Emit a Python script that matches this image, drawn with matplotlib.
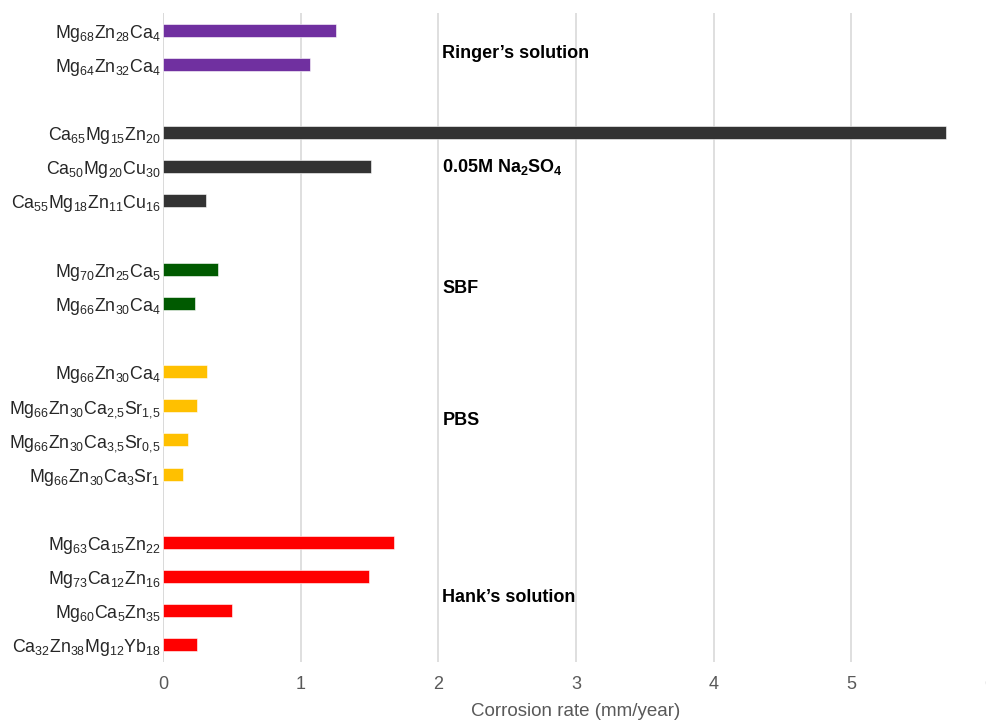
import numpy as np
import matplotlib.pyplot as plt

plt.rcParams['font.family'] = ['Liberation Sans', 'DejaVu Sans']
plt.rcParams['mathtext.fontset'] = 'custom'
plt.rcParams['mathtext.rm'] = 'Liberation Sans'
plt.rcParams['mathtext.it'] = 'Liberation Sans'
plt.rcParams['mathtext.bf'] = 'Liberation Sans:bold'

# Data, top to bottom, one list per solution
groups = ["Ringer\u2019s solution", r"0.05M Na$\mathbf{_2}$SO$\mathbf{_4}$", "SBF", "PBS",
          "Hank\u2019s solution"]
alloys = [
    [r"Mg$_{68}$Zn$_{28}$Ca$_{4}$", r"Mg$_{64}$Zn$_{32}$Ca$_{4}$"],
    [r"Ca$_{65}$Mg$_{15}$Zn$_{20}$", r"Ca$_{50}$Mg$_{20}$Cu$_{30}$",
     r"Ca$_{55}$Mg$_{18}$Zn$_{11}$Cu$_{16}$"],
    [r"Mg$_{70}$Zn$_{25}$Ca$_{5}$", r"Mg$_{66}$Zn$_{30}$Ca$_{4}$"],
    [r"Mg$_{66}$Zn$_{30}$Ca$_{4}$", r"Mg$_{66}$Zn$_{30}$Ca$_{2{,}5}$Sr$_{1{,}5}$",
     r"Mg$_{66}$Zn$_{30}$Ca$_{3{,}5}$Sr$_{0{,}5}$", r"Mg$_{66}$Zn$_{30}$Ca$_{3}$Sr$_{1}$"],
    [r"Mg$_{63}$Ca$_{15}$Zn$_{22}$", r"Mg$_{73}$Ca$_{12}$Zn$_{16}$",
     r"Mg$_{60}$Ca$_{5}$Zn$_{35}$", r"Ca$_{32}$Zn$_{38}$Mg$_{12}$Yb$_{18}$"],
]
rates = [
    [1.26, 1.07],
    [5.69, 1.51, 0.31],
    [0.40, 0.23],
    [0.32, 0.245, 0.18, 0.146],
    [1.68, 1.50, 0.50, 0.25],
]
colors = ["#7030A0", "#333333", "#005A00", "#FFC000", "#FF0000"]
label_shift = [0.18, 0.0, 0.06, -0.08, 0.12]  # nudge of group names off centre

fig = plt.figure(figsize=(9.87, 7.22), dpi=100)
ax = fig.add_axes([163/987, 1 - 662/722, 826/987, (662 - 13)/722])

pos = 0
ticks, labels = [], []
for g, name in enumerate(groups):
    ys = np.arange(pos, pos + len(rates[g]))
    ax.barh(ys, rates[g], height=0.38, color=colors[g], edgecolor='white',
            linewidth=0.4, zorder=3)
    ax.text(2.03, ys.mean() + label_shift[g], name, fontsize=13, fontweight='bold',
            va='center', ha='left', color='black', zorder=4)
    ticks += list(ys)
    labels += alloys[g]
    pos += len(rates[g]) + 1

ax.set_ylim(pos - 1.5, -0.5)
ax.set_xlim(0, 6)
ax.set_yticks(ticks)
ax.set_yticklabels(labels, fontsize=12.8, color='#262626')
ax.set_xticks(np.arange(0, 7, 1))
ax.tick_params(axis='x', length=0, pad=10, labelsize=13, labelcolor='#595959')
ax.tick_params(axis='y', length=0, pad=2)
ax.grid(axis='x', color='#D9D9D9', linewidth=1.2, zorder=0)
ax.grid(axis='y', visible=False)
for s in ax.spines.values():
    s.set_visible(False)
ax.axvline(0, color='#D9D9D9', linewidth=1.2, zorder=1)
ax.set_xlabel('Corrosion rate (mm/year)', fontsize=13.5, color='#595959', labelpad=7)

fig.savefig('out.png', dpi=100)
